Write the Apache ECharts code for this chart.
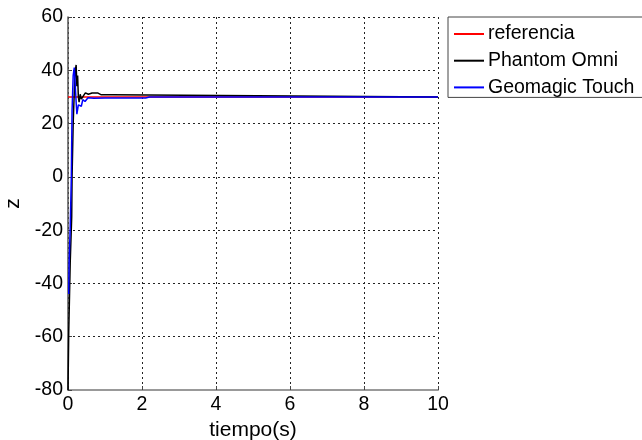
<!DOCTYPE html>
<html>
<head>
<meta charset="utf-8">
<script src="https://cdn.jsdelivr.net/npm/echarts@6/dist/echarts.min.js"></script>
<style>
  html, body { margin: 0; padding: 0; background: #fff; }
  #chart { width: 642px; height: 440px; }
</style>
</head>
<body>
<div id="chart"></div>
<script>
// values
var refT = [0, 10];
var refZ = [30, 30];

var omniT = [0, 0.01, 0.02, 0.06, 0.1, 0.11, 0.14, 0.18, 0.2, 0.22, 0.24, 0.26, 0.28, 0.3, 0.33, 0.36, 0.42, 0.47, 0.55, 0.65, 0.8, 0.9, 1.2, 2.15, 2.2, 10];
var omniZ = [-80, -80, -58, -32, -15, 0, 20, 36, 40, 42, 34, 38, 30, 28, 31, 29.2, 30.5, 31.5, 31, 31.5, 31.5, 30.8, 30.8, 30.7, 30, 30];

var touchT = [0.02, 0.03, 0.06, 0.09, 0.11, 0.14, 0.17, 0.19, 0.22, 0.24, 0.28, 0.32, 0.36, 0.4, 0.46, 0.54, 0.7, 1.0, 2.1, 2.2, 10];
var touchZ = [-44, -32, -19, 0, 25, 38, 41, 36, 28, 23.5, 27, 27, 26.5, 29, 28.3, 29.7, 29.5, 29.6, 29.6, 30, 30];

var xTicks = [0, 2, 4, 6, 8, 10];
var yTicks = [-80, -60, -40, -20, 0, 20, 40, 60];

function zip(t, z) {
    var out = [];
    for (var i = 0; i < t.length; i++) out.push([t[i], z[i]]);
    return out;
}

var font = 'Liberation Sans, Arial, sans-serif';
var gridLine = { show: true, lineStyle: { color: '#222', width: 1, type: [2, 3] } };

var myChart = echarts.init(document.getElementById('chart'));
var option = {
    animation: false,
    backgroundColor: '#fff',
    grid: { left: 68, right: 204, top: 17, bottom: 50, containLabel: false, outerBoundsMode: 'none' },
    legend: {
        orient: 'vertical',
        left: 448,
        top: 17,
        padding: [7, 40, 0, 6],
        itemWidth: 30,
        itemHeight: 2,
        itemGap: 6.7,
        icon: 'rect',
        borderColor: '#444',
        borderWidth: 1,
        backgroundColor: '#fff',
        textStyle: { fontFamily: font, fontSize: 19.5, color: '#000', lineHeight: 20, padding: [0, 0, 0, -1] },
        data: ['referencia', 'Phantom Omni', 'Geomagic Touch']
    },
    xAxis: {
        type: 'value',
        min: xTicks[0],
        max: xTicks[xTicks.length - 1],
        interval: 2,
        name: 'tiempo(s)',
        nameLocation: 'middle',
        nameGap: 23,
        nameTextStyle: { fontFamily: font, fontSize: 21, color: '#000' },
        axisLine: { show: true, onZero: false, lineStyle: { color: '#999', width: 2 } },
        axisTick: { show: true, inside: true, length: 4, lineStyle: { color: '#444' } },
        axisLabel: { fontFamily: font, fontSize: 19.5, color: '#000', margin: 5 },
        splitLine: gridLine
    },
    yAxis: {
        type: 'value',
        min: yTicks[0],
        max: yTicks[yTicks.length - 1],
        interval: 20,
        name: 'z',
        nameLocation: 'middle',
        nameGap: 44,
        nameRotate: 90,
        nameTextStyle: { fontFamily: font, fontSize: 21, color: '#000' },
        axisLine: { show: true, onZero: false, lineStyle: { color: '#555', width: 1.5 } },
        axisTick: { show: true, inside: true, length: 4, lineStyle: { color: '#444' } },
        axisLabel: { fontFamily: font, fontSize: 19.5, color: '#000', margin: 5 },
        splitLine: gridLine
    },
    series: [
        {
            name: 'referencia',
            type: 'line',
            showSymbol: false,
            color: '#ff0000',
            lineStyle: { width: 1.5 },
            data: zip(refT, refZ)
        },
        {
            name: 'Phantom Omni',
            type: 'line',
            showSymbol: false,
            color: '#000000',
            lineStyle: { width: 1.5 },
            data: zip(omniT, omniZ)
        },
        {
            name: 'Geomagic Touch',
            type: 'line',
            showSymbol: false,
            color: '#0000ff',
            lineStyle: { width: 1.5 },
            data: zip(touchT, touchZ)
        }
    ]
};
myChart.setOption(option);
</script>
</body>
</html>
